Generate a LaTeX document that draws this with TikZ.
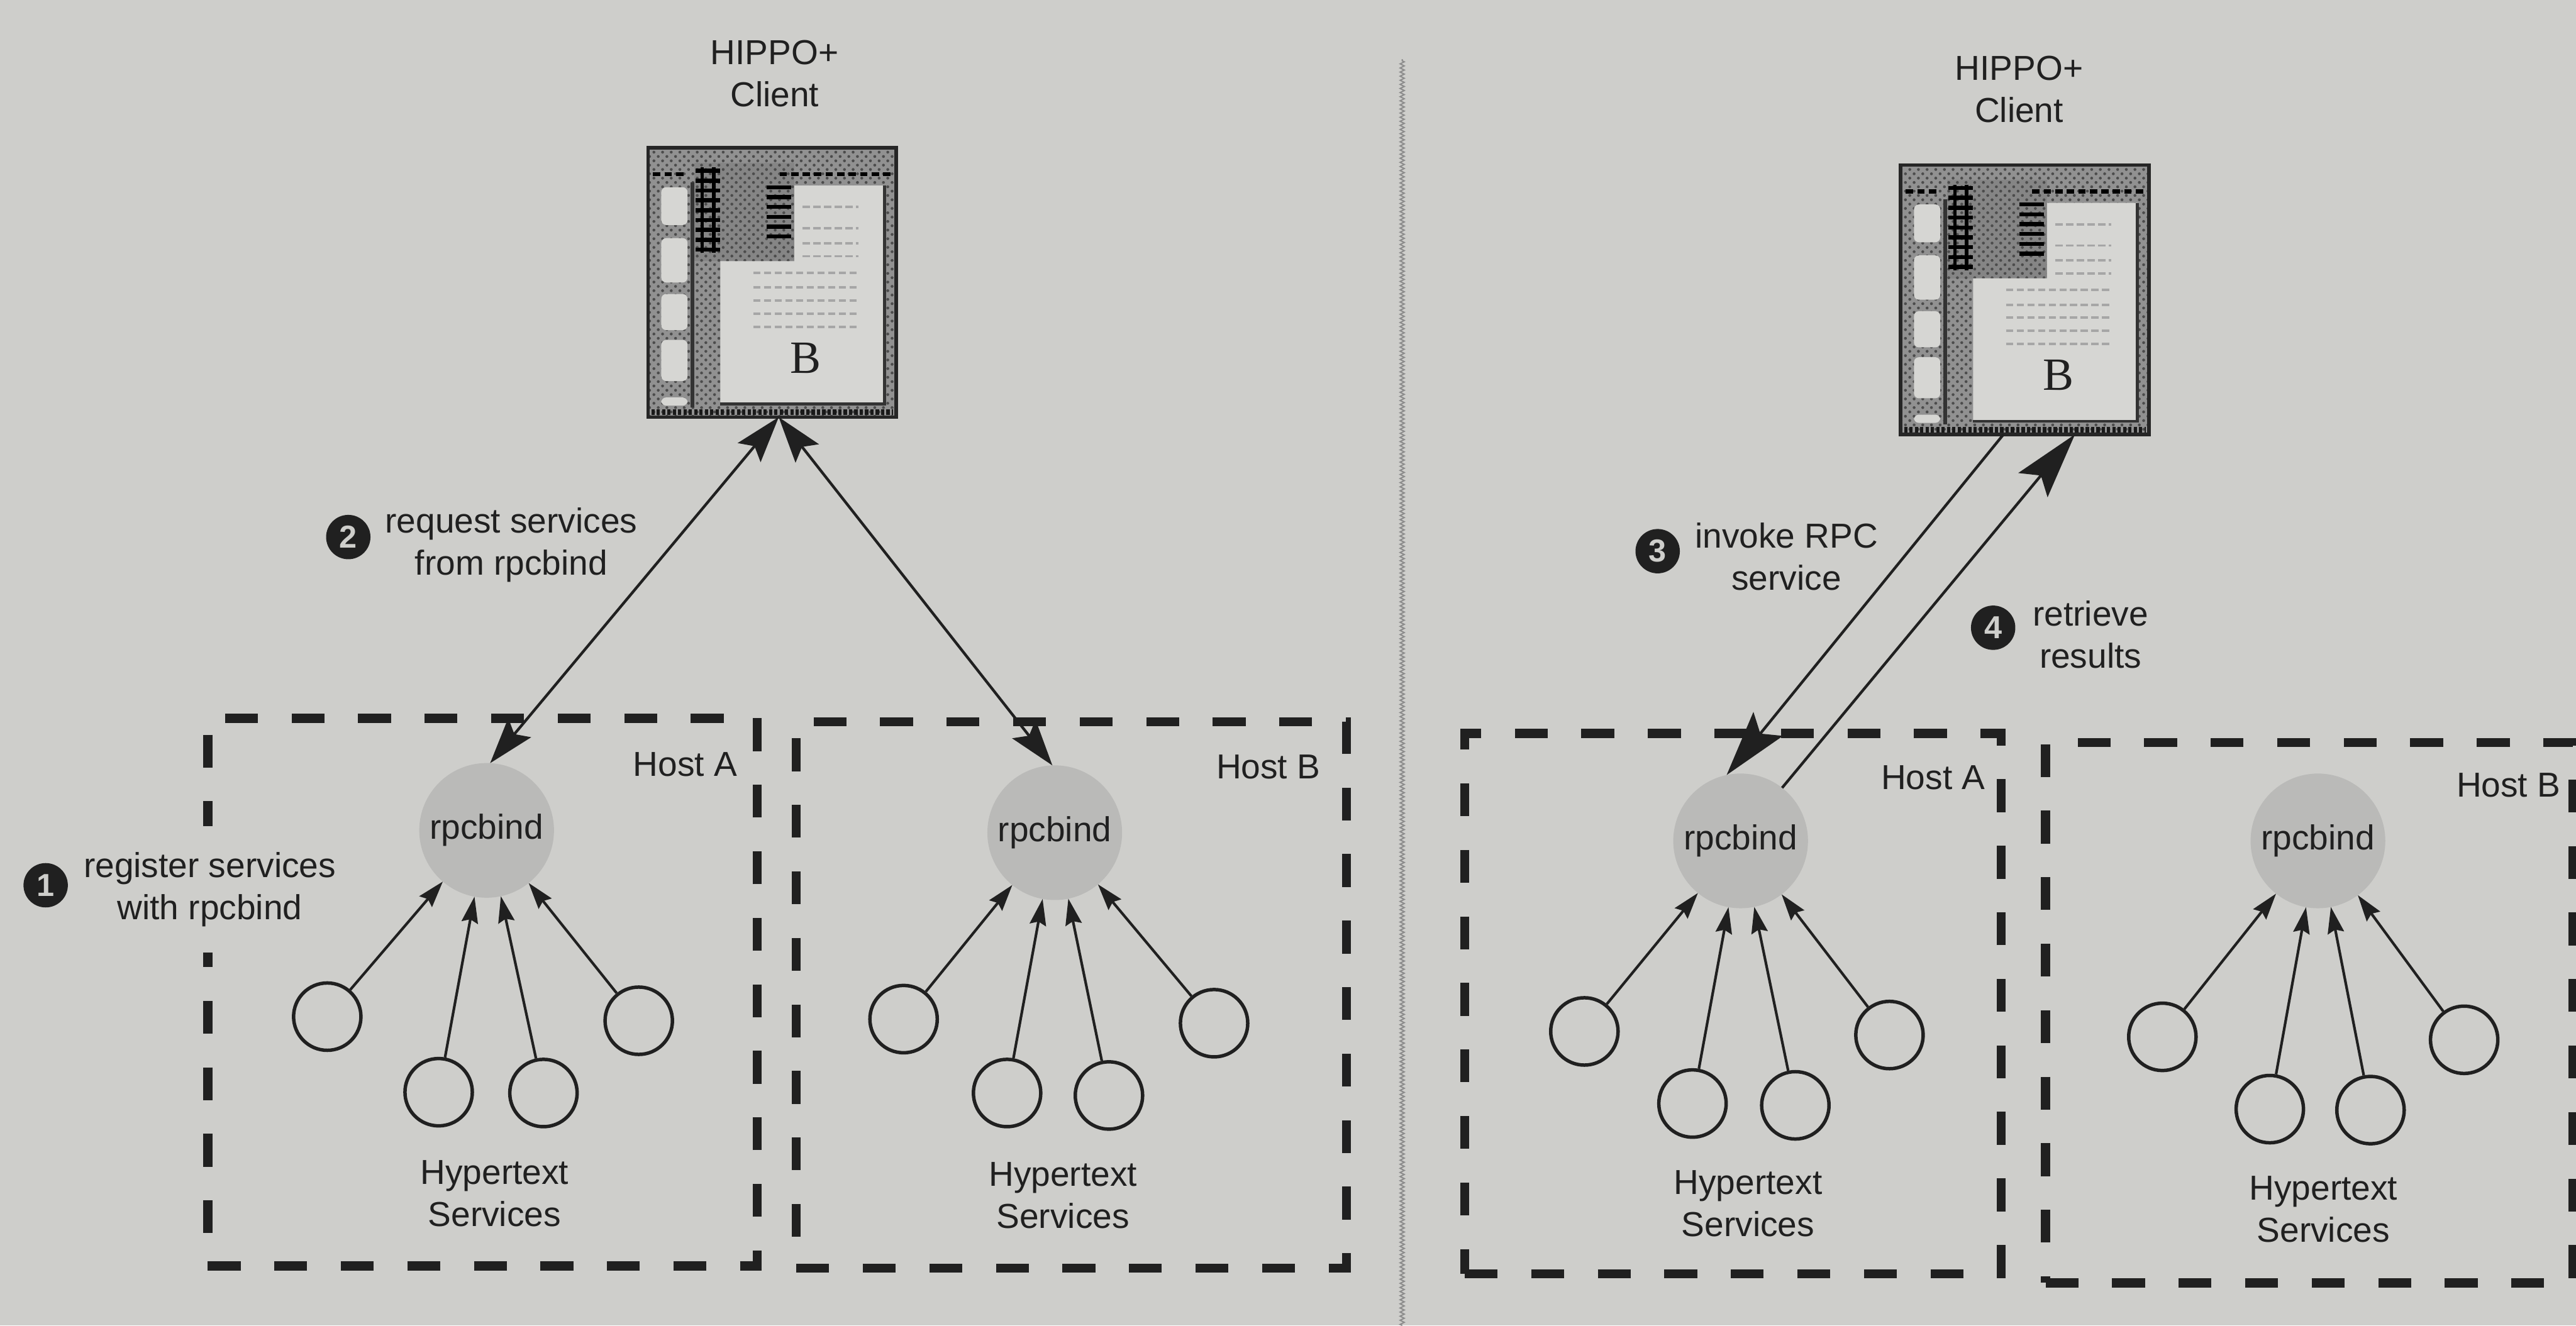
\documentclass[tikz,border=0pt]{standalone}
\usepackage{fontspec}
\setmainfont{Liberation Sans}
\newfontfamily\serifB{Liberation Serif}
\usepackage{xcolor}
\usepackage{tikz}
\usetikzlibrary{positioning, arrows.meta, patterns, decorations.pathmorphing}

\definecolor{paper}{RGB}{206,206,203}
\definecolor{ink}{RGB}{32,32,32}
\definecolor{rpcgray}{RGB}{186,186,184}
\definecolor{winframe}{RGB}{145,145,145}
\definecolor{winpaper}{RGB}{214,214,211}
\definecolor{rulegray}{RGB}{140,140,140}

\newcommand{\lblfont}{\fontsize{12}{14.6}\selectfont}

\begin{document}
\begin{tikzpicture}[
    font=\lblfont, text=ink,
    host/.style={draw=ink, line width=1.1mm, dash pattern=on 4mm off 4.1mm, inner sep=0pt},
    rpc/.style={circle, fill=rpcgray, minimum size=1.64cm, inner sep=0pt, outer sep=0pt},
    svc/.style={circle, draw=ink, line width=0.42mm, minimum size=0.82cm, inner sep=0pt},
    num/.style={circle, fill=ink, text=paper, minimum size=5.4mm, inner sep=0pt, font=\bfseries\fontsize{11}{11}\selectfont},
    txt/.style={align=center, inner sep=0pt},
    client/.style={rectangle, minimum width=3.02cm, minimum height=3.28cm, inner sep=0pt, outer sep=0pt},
    svcarrow/.style={-{Stealth[length=3.2mm, width=2mm, inset=0.4mm]}, line width=0.32mm, draw=ink},
    callarrow/.style={{Stealth[length=5.6mm, width=3.6mm, inset=1mm]}-{Stealth[length=5.6mm, width=3.6mm, inset=1mm]}, line width=0.33mm, draw=ink},
    rpcarrow/.style={-{Stealth[length=8mm, width=4.6mm, inset=1.5mm]}, line width=0.33mm, draw=ink},
    clientwin/.pic={
      \begin{scope}[x=0.2mm, y=-0.2mm]
        % halftoned window frame, a little darker round the tools
        \fill[winframe] (0,0) rectangle (151,164);
        \fill[black!48] (28,9) rectangle (89,69);
        \fill[pattern=crosshatch dots, pattern color=black!70] (0,0) rectangle (151,164);
        % palette slots down the left edge
        \foreach \ya/\yb in {24/47, 55/82, 89/111, 117/142, 152/157}
          \fill[winpaper, rounded corners=0.6mm] (8,\ya) rectangle (24,\yb);
        \draw[black!80, line width=0.45mm] (27,21) -- (27,158);
        % the page
        \fill[winpaper] (89,23) -- (144,23) -- (144,156) -- (44,156) -- (44,69) -- (89,69) -- cycle;
        \draw[black!80, line width=0.35mm] (44,156) -- (144,156) -- (144,23);
        % tool glyphs
        \foreach \y in {14,20,...,62}
          \draw[black, line width=0.5mm] (29,\y) -- (44,\y);
        \draw[black, line width=0.4mm] (33,12) -- (33,64) (40,12) -- (40,64);
        \foreach \y in {24,30,...,54}
          \draw[black, line width=0.5mm] (72,\y) -- (87,\y);
        % menu bar and scroll bar
        \draw[black, line width=0.5mm, dash pattern=on 0.9mm off 0.5mm] (3,16) -- (22,16) (80,16) -- (148,16);
        \draw[black!90, line width=0.7mm, dash pattern=on 0.4mm off 0.25mm] (2,161) -- (149,161);
        % greyed text on the page
        \foreach \y in {36,49,58,66}
          \draw[black!35, line width=0.3mm, dash pattern=on 0.9mm off 0.4mm] (94,\y) -- (128,\y);
        \foreach \y in {76,85,93,101,109}
          \draw[black!35, line width=0.3mm, dash pattern=on 0.9mm off 0.4mm] (64,\y) -- (128,\y);
        \draw[black!85, line width=0.45mm] (0,0) rectangle (151,164);
        \node[font=\serifB\fontsize{16}{16}\selectfont, text=ink] (-b) at (96,128) {B};
      \end{scope}
    }
]

\fill[paper] (0,0) rectangle (31.36,16.14);
\useasboundingbox (0,0) rectangle (31.36,16.14);

% divider between the two stages
\draw[rulegray, line width=0.15mm, decorate, decoration={zigzag, segment length=0.5mm, amplitude=0.25mm}] (17.07,0) -- (17.07,15.42);

%%% stage 1: registration and lookup
\node[txt] (ttl1) at (9.43,15.24) {HIPPO+\\Client};
\node[client] (cl1) at (9.40,12.70) {};
\pic (cl1win) at (cl1.north west) {clientwin};

\node[host, minimum width=6.69cm, minimum height=6.67cm] (hA1) at (5.874,4.058) {};
\node[host, minimum width=6.70cm, minimum height=6.65cm] (hB1) at (13.044,4.024) {};
\node[txt] (lA1) at (8.342,6.834) {Host A};
\node[txt] (lB1) at (15.44,6.80) {Host B};

\node[rpc] (rpa1) at (5.924,6.028) {rpcbind};
\node[rpc] (rpb1) at (12.84,6.00) {rpcbind};

\node[svc] (sa11) at (3.984,3.76) {};
\node[svc] (sa12) at (5.34,2.84) {};
\node[svc] (sa13) at (6.616,2.83) {};
\node[svc] (sa14) at (7.776,3.71) {};
\node[svc] (sb11) at (11.00,3.73) {};
\node[svc] (sb12) at (12.26,2.83) {};
\node[svc] (sb13) at (13.50,2.80) {};
\node[svc] (sb14) at (14.78,3.68) {};

\draw[svcarrow] (sa11) -- (rpa1);
\draw[svcarrow] (sa12) -- (rpa1);
\draw[svcarrow] (sa13) -- (rpa1);
\draw[svcarrow] (sa14) -- (rpa1);
\draw[svcarrow] (sb11) -- (rpb1);
\draw[svcarrow] (sb12) -- (rpb1);
\draw[svcarrow] (sb13) -- (rpb1);
\draw[svcarrow] (sb14) -- (rpb1);

\node[txt] (hyA1) at (6.02,1.604) {Hypertext\\Services};
\node[txt] (hyB1) at (12.94,1.58) {Hypertext\\Services};

\coordinate (cl1tip) at ([xshift=0.8mm]cl1.south);
\draw[callarrow] (cl1tip) -- (rpa1.87);
\draw[callarrow] (cl1tip) -- (rpb1.92);

\node[num] (n1) at (0.556,5.36) {1};
\node[txt, fill=paper, minimum height=15.4mm, inner xsep=1mm] (t1) at (2.554,5.31) {register services\\with rpcbind};
\node[num] (n2) at (4.24,9.60) {2};
\node[txt] (t2) at (6.224,9.50) {request services\\from rpcbind};

%%% stage 2: the call itself
\node[txt] (ttl2) at (24.58,15.055) {HIPPO+\\Client};
\node[client] (cl2) at (24.65,12.49) {};
\pic (cl2win) at (cl2.north west) {clientwin};

\node[host, minimum width=6.53cm, minimum height=6.58cm] (hA2) at (21.096,3.92) {};
\node[host, minimum width=6.42cm, minimum height=6.58cm] (hB2) at (28.112,3.808) {};
\node[txt] (lA2) at (23.534,6.668) {Host A};
\node[txt] (lB2) at (30.538,6.578) {Host B};

\node[rpc] (rpa2) at (21.19,5.90) {rpcbind};
\node[rpc] (rpb2) at (28.218,5.90) {rpcbind};

\node[svc] (sa21) at (19.288,3.58) {};
\node[svc] (sa22) at (20.604,2.702) {};
\node[svc] (sa23) at (21.856,2.68) {};
\node[svc] (sa24) at (23.002,3.536) {};
\node[svc] (sb21) at (26.324,3.514) {};
\node[svc] (sb22) at (27.632,2.634) {};
\node[svc] (sb23) at (28.858,2.622) {};
\node[svc] (sb24) at (29.998,3.478) {};

\draw[svcarrow] (sa21) -- (rpa2);
\draw[svcarrow] (sa22) -- (rpa2);
\draw[svcarrow] (sa23) -- (rpa2);
\draw[svcarrow] (sa24) -- (rpa2);
\draw[svcarrow] (sb21) -- (rpb2);
\draw[svcarrow] (sb22) -- (rpb2);
\draw[svcarrow] (sb23) -- (rpb2);
\draw[svcarrow] (sb24) -- (rpb2);

\node[txt] (hyA2) at (21.28,1.486) {Hypertext\\Services};
\node[txt] (hyB2) at (28.284,1.418) {Hypertext\\Services};

\coordinate (cl2out) at ([xshift=-2.6mm]cl2.south);
\coordinate (cl2in) at ([xshift=6.1mm]cl2.south);
\draw[rpcarrow] (cl2out) -- (rpa2.102);
\draw[rpcarrow] (rpa2.52) -- (cl2in);

\node[num] (n3) at (20.18,9.428) {3};
\node[txt] (t3) at (21.748,9.36) {invoke RPC\\service};
\node[num] (n4) at (24.264,8.496) {4};
\node[txt] (t4) at (25.45,8.414) {retrieve\\results};

\end{tikzpicture}
\end{document}
